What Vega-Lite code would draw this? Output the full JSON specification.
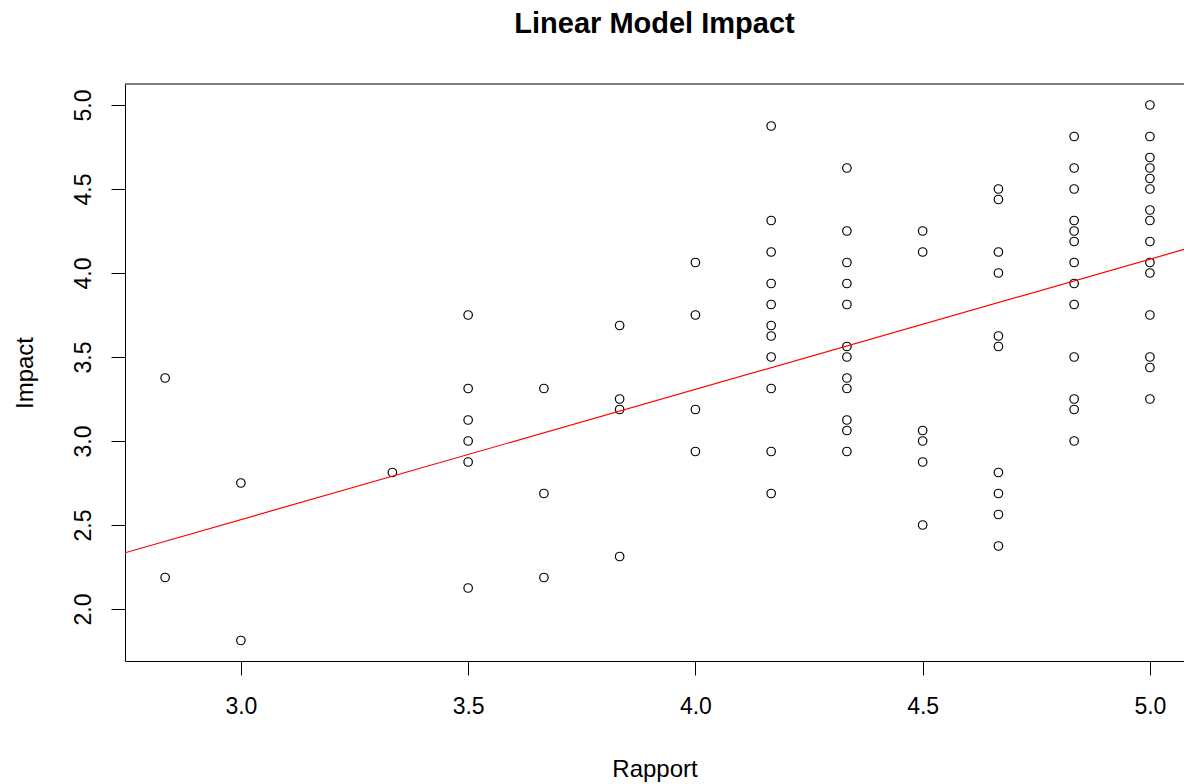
{
  "$schema": "https://vega.github.io/schema/vega-lite/v6.json",
  "width": 1059,
  "height": 577,
  "autosize": {"type": "none"},
  "padding": {"left": 125, "top": 84, "right": 0, "bottom": 123},
  "background": "white",
  "title": {
    "text": "Linear Model Impact",
    "font": "Liberation Sans",
    "fontSize": 29,
    "fontWeight": "bold",
    "color": "black",
    "anchor": "middle",
    "baseline": "alphabetic",
    "offset": 22
  },
  "config": {
    "view": {"stroke": null},
    "axis": {
      "grid": false,
      "domain": true,
      "domainColor": "black",
      "domainWidth": 1,
      "tickColor": "black",
      "tickSize": 14,
      "tickWidth": 1,
      "labelFont": "Liberation Sans",
      "labelFontSize": 23,
      "labelColor": "black",
      "titleFont": "Liberation Sans",
      "titleFontSize": 24,
      "titleFontWeight": "normal",
      "titleColor": "black"
    }
  },
  "datasets": {
    "pts": [
      {"Rapport": 2.8333, "Impact": 3.375},
      {"Rapport": 2.8333, "Impact": 2.1875},
      {"Rapport": 3.0, "Impact": 2.75},
      {"Rapport": 3.0, "Impact": 1.8125},
      {"Rapport": 3.3333, "Impact": 2.8125},
      {"Rapport": 3.5, "Impact": 3.75},
      {"Rapport": 3.5, "Impact": 3.3125},
      {"Rapport": 3.5, "Impact": 3.125},
      {"Rapport": 3.5, "Impact": 3.0},
      {"Rapport": 3.5, "Impact": 2.875},
      {"Rapport": 3.5, "Impact": 2.125},
      {"Rapport": 3.6667, "Impact": 3.3125},
      {"Rapport": 3.6667, "Impact": 2.6875},
      {"Rapport": 3.6667, "Impact": 2.1875},
      {"Rapport": 3.8333, "Impact": 3.6875},
      {"Rapport": 3.8333, "Impact": 3.25},
      {"Rapport": 3.8333, "Impact": 3.1875},
      {"Rapport": 3.8333, "Impact": 2.3125},
      {"Rapport": 4.0, "Impact": 4.0625},
      {"Rapport": 4.0, "Impact": 3.75},
      {"Rapport": 4.0, "Impact": 3.1875},
      {"Rapport": 4.0, "Impact": 2.9375},
      {"Rapport": 4.1667, "Impact": 4.875},
      {"Rapport": 4.1667, "Impact": 4.3125},
      {"Rapport": 4.1667, "Impact": 4.125},
      {"Rapport": 4.1667, "Impact": 3.9375},
      {"Rapport": 4.1667, "Impact": 3.8125},
      {"Rapport": 4.1667, "Impact": 3.6875},
      {"Rapport": 4.1667, "Impact": 3.625},
      {"Rapport": 4.1667, "Impact": 3.5},
      {"Rapport": 4.1667, "Impact": 3.3125},
      {"Rapport": 4.1667, "Impact": 2.9375},
      {"Rapport": 4.1667, "Impact": 2.6875},
      {"Rapport": 4.3333, "Impact": 4.625},
      {"Rapport": 4.3333, "Impact": 4.25},
      {"Rapport": 4.3333, "Impact": 4.0625},
      {"Rapport": 4.3333, "Impact": 3.9375},
      {"Rapport": 4.3333, "Impact": 3.8125},
      {"Rapport": 4.3333, "Impact": 3.5625},
      {"Rapport": 4.3333, "Impact": 3.5},
      {"Rapport": 4.3333, "Impact": 3.375},
      {"Rapport": 4.3333, "Impact": 3.3125},
      {"Rapport": 4.3333, "Impact": 3.125},
      {"Rapport": 4.3333, "Impact": 3.0625},
      {"Rapport": 4.3333, "Impact": 2.9375},
      {"Rapport": 4.5, "Impact": 4.25},
      {"Rapport": 4.5, "Impact": 4.125},
      {"Rapport": 4.5, "Impact": 3.0625},
      {"Rapport": 4.5, "Impact": 3.0},
      {"Rapport": 4.5, "Impact": 2.875},
      {"Rapport": 4.5, "Impact": 2.5},
      {"Rapport": 4.6667, "Impact": 4.5},
      {"Rapport": 4.6667, "Impact": 4.4375},
      {"Rapport": 4.6667, "Impact": 4.125},
      {"Rapport": 4.6667, "Impact": 4.0},
      {"Rapport": 4.6667, "Impact": 3.625},
      {"Rapport": 4.6667, "Impact": 3.5625},
      {"Rapport": 4.6667, "Impact": 2.8125},
      {"Rapport": 4.6667, "Impact": 2.6875},
      {"Rapport": 4.6667, "Impact": 2.5625},
      {"Rapport": 4.6667, "Impact": 2.375},
      {"Rapport": 4.8333, "Impact": 4.8125},
      {"Rapport": 4.8333, "Impact": 4.625},
      {"Rapport": 4.8333, "Impact": 4.5},
      {"Rapport": 4.8333, "Impact": 4.3125},
      {"Rapport": 4.8333, "Impact": 4.25},
      {"Rapport": 4.8333, "Impact": 4.1875},
      {"Rapport": 4.8333, "Impact": 4.0625},
      {"Rapport": 4.8333, "Impact": 3.9375},
      {"Rapport": 4.8333, "Impact": 3.8125},
      {"Rapport": 4.8333, "Impact": 3.5},
      {"Rapport": 4.8333, "Impact": 3.25},
      {"Rapport": 4.8333, "Impact": 3.1875},
      {"Rapport": 4.8333, "Impact": 3.0},
      {"Rapport": 5.0, "Impact": 5.0},
      {"Rapport": 5.0, "Impact": 4.8125},
      {"Rapport": 5.0, "Impact": 4.6875},
      {"Rapport": 5.0, "Impact": 4.625},
      {"Rapport": 5.0, "Impact": 4.5625},
      {"Rapport": 5.0, "Impact": 4.5},
      {"Rapport": 5.0, "Impact": 4.375},
      {"Rapport": 5.0, "Impact": 4.3125},
      {"Rapport": 5.0, "Impact": 4.1875},
      {"Rapport": 5.0, "Impact": 4.0625},
      {"Rapport": 5.0, "Impact": 4.0},
      {"Rapport": 5.0, "Impact": 3.75},
      {"Rapport": 5.0, "Impact": 3.5},
      {"Rapport": 5.0, "Impact": 3.4375},
      {"Rapport": 5.0, "Impact": 3.25}
    ],
    "fit": [
      {"Rapport": 2.745, "Impact": 2.3347},
      {"Rapport": 5.075, "Impact": 4.1402}
    ]
  },
  "layer": [
    {
      "data": {"name": "pts"},
      "mark": {"type": "point", "filled": false, "color": "black", "size": 72, "strokeWidth": 1.2, "opacity": 1},
      "encoding": {
        "x": {
          "field": "Rapport", "type": "quantitative",
          "scale": {"domain": [2.745, 5.075], "nice": false, "zero": false},
          "axis": {
            "title": "Rapport",
            "values": [3.0, 3.5, 4.0, 4.5, 5.0],
            "format": ".1f",
            "labelBaseline": "top",
            "labelPadding": 20,
            "labelAlign": "center",
            "titleBaseline": "alphabetic",
            "titleY": 115
          }
        },
        "y": {
          "field": "Impact", "type": "quantitative",
          "scale": {"domain": [1.6905, 5.125], "nice": false, "zero": false},
          "axis": {
            "title": "Impact",
            "values": [2.0, 2.5, 3.0, 3.5, 4.0, 4.5, 5.0],
            "format": ".1f",
            "labelAngle": 270,
            "labelAlign": "center",
            "labelBaseline": "alphabetic",
            "labelPadding": 21,
            "titleBaseline": "alphabetic",
            "titleX": -93
          }
        }
      }
    },
    {
      "data": {"values": [{"edge": "top"}]},
      "mark": {"type": "rule", "color": "black", "strokeWidth": 1},
      "encoding": {
        "y": {"datum": 5.125, "type": "quantitative"}
      }
    },
    {
      "data": {"name": "fit"},
      "mark": {"type": "line", "color": "red", "strokeWidth": 1.2, "clip": true},
      "encoding": {
        "x": {"field": "Rapport", "type": "quantitative"},
        "y": {"field": "Impact", "type": "quantitative"}
      }
    }
  ]
}
